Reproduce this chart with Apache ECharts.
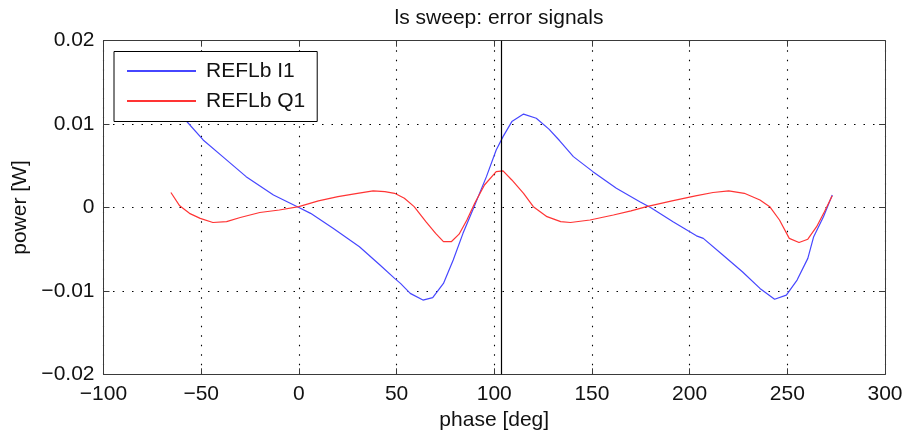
<!DOCTYPE html>
<html>
<head>
<meta charset="utf-8">
<script src="https://cdn.jsdelivr.net/npm/echarts@6/dist/echarts.min.js"></script>
<style>
html,body{margin:0;padding:0;background:#fff;}
#chart{width:906px;height:436px;}
</style>
</head>
<body>
<div id="chart"></div>
<script>
const titleText = 'ls sweep: error signals';
const xName = 'phase [deg]';
const yName = 'power [W]';
const seriesNames = ['REFLb I1', 'REFLb Q1'];
const markerPhase = 103.5;

const phaseI = [-65,-60,-49,-39,-27,-13,0,6,17.5,31,41.5,49,52,57,63.5,68.5,74,79,84,89,96,101,104.5,109,115,121.5,128,133.5,140.5,150.5,162.5,174.5,180,191.5,203.5,207,217,227,236,243.5,249.5,255,260.5,263.5,268.5,273];
const valueI = [0.0122,0.0110,0.0081,0.0061,0.0037,0.0015,0.0000,-0.0007,-0.0025,-0.0047,-0.0069,-0.0085,-0.0091,-0.0103,-0.0111,-0.0108,-0.0091,-0.0063,-0.0031,-0.0003,0.0037,0.0069,0.0085,0.0103,0.0112,0.0107,0.0094,0.0080,0.0061,0.0043,0.0023,0.0007,0.0000,-0.0017,-0.0034,-0.0037,-0.0057,-0.0077,-0.0097,-0.0110,-0.0105,-0.0087,-0.0061,-0.0035,-0.0011,0.0015];

const phaseQ = [-65.5,-61,-56,-50.5,-44,-37,-30,-20,-10,0,10,20,30,38,44,49,54,59,65,70,74,78,82,86,90,95,101,104.5,109,115,120,127,134,139,149,161,170,178,191,203,212,220,228,236,241,246,251,256,260.5,265,269,273];
const valueQ = [0.0018,0.0002,-0.0007,-0.0013,-0.0018,-0.0017,-0.0012,-0.0006,-0.0003,0.0001,0.0008,0.0013,0.0017,0.0020,0.0019,0.0017,0.0011,0.0001,-0.0017,-0.0031,-0.0041,-0.0041,-0.0032,-0.0015,0.0005,0.0027,0.0043,0.0044,0.0033,0.0017,0.0001,-0.0011,-0.0017,-0.0018,-0.0015,-0.0009,-0.0004,0.0001,0.0008,0.0014,0.0018,0.0020,0.0017,0.0009,0.0001,-0.0015,-0.0037,-0.0042,-0.0038,-0.0023,-0.0005,0.0014];

const xTicks = {min: -100, max: 300, interval: 50};
const yTicks = {min: -0.02, max: 0.02, interval: 0.01};

const FONT = 'Liberation Sans';
const fmtNum = v => {
  const r = Math.round(v * 1e6) / 1e6;
  return String(r).replace('-', '\u2212');
};

const gridLine = {show: true, lineStyle: {color: '#000', type: [1.5, 8], width: 1.1}};
const axisLine = {show: true, onZero: false, lineStyle: {color: '#3a3a3a', width: 1}};
const tick = {show: true, inside: true, length: 6, lineStyle: {color: '#3a3a3a', width: 1}};

const chart = echarts.init(document.getElementById('chart'), null, {renderer: 'canvas'});
chart.setOption({
  animation: false,
  backgroundColor: '#fff',
  textStyle: {fontFamily: FONT},
  title: {
    text: titleText,
    left: 494, top: 3, textAlign: 'center',
    textStyle: {fontFamily: FONT, fontSize: 21, fontWeight: 'normal', color: '#111'}
  },
  grid: {left: 103.5, right: 21, top: 40.7, bottom: 61.7, containLabel: false},
  legend: {
    orient: 'vertical',
    left: 114, top: 51.5,
    padding: [9, 12, 10, 12],
    itemGap: 9,
    itemWidth: 69, itemHeight: 14,
    borderColor: '#000', borderWidth: 1, backgroundColor: '#fff',
    itemStyle: {opacity: 0},
    textStyle: {fontFamily: FONT, fontSize: 21, color: '#111', padding: [0, 0, 0, 5]},
    data: seriesNames
  },
  xAxis: [
    {type: 'value', position: 'bottom', min: xTicks.min, max: xTicks.max, interval: xTicks.interval,
     name: xName, nameLocation: 'middle', nameGap: 35,
     nameTextStyle: {fontFamily: FONT, fontSize: 21, color: '#111'},
     axisLine: axisLine, axisTick: tick, splitLine: gridLine,
     axisLabel: {fontFamily: FONT, fontSize: 21, color: '#111', margin: 9, formatter: fmtNum}},
    {type: 'value', position: 'top', min: xTicks.min, max: xTicks.max, interval: xTicks.interval,
     axisLine: axisLine, axisTick: tick, splitLine: {show: false}, axisLabel: {show: false}}
  ],
  yAxis: [
    {type: 'value', position: 'left', min: yTicks.min, max: yTicks.max, interval: yTicks.interval,
     name: yName, nameLocation: 'middle', nameGap: 68,
     nameTextStyle: {fontFamily: FONT, fontSize: 21, color: '#111'},
     axisLine: axisLine, axisTick: tick, splitLine: gridLine,
     axisLabel: {fontFamily: FONT, fontSize: 21, color: '#111', margin: 9, formatter: fmtNum}},
    {type: 'value', position: 'right', min: yTicks.min, max: yTicks.max, interval: yTicks.interval,
     axisLine: axisLine, axisTick: tick, splitLine: {show: false}, axisLabel: {show: false}}
  ],
  series: [
    {
      name: seriesNames[0], type: 'line', symbol: 'none', smooth: false,
      xAxisIndex: 0, yAxisIndex: 0,
      data: phaseI.map((p, i) => [p, valueI[i]]),
      lineStyle: {color: '#4646ff', width: 1.2},
      itemStyle: {color: '#4646ff'},
      markLine: {
        silent: true, symbol: ['none', 'none'], label: {show: false},
        lineStyle: {color: '#000', type: 'solid', width: 1.2},
        data: [{xAxis: markerPhase}]
      }
    },
    {
      name: seriesNames[1], type: 'line', symbol: 'none', smooth: false,
      xAxisIndex: 0, yAxisIndex: 0,
      data: phaseQ.map((p, i) => [p, valueQ[i]]),
      lineStyle: {color: '#ff3434', width: 1.2},
      itemStyle: {color: '#ff3434'}
    }
  ]
});
</script>
</body>
</html>
